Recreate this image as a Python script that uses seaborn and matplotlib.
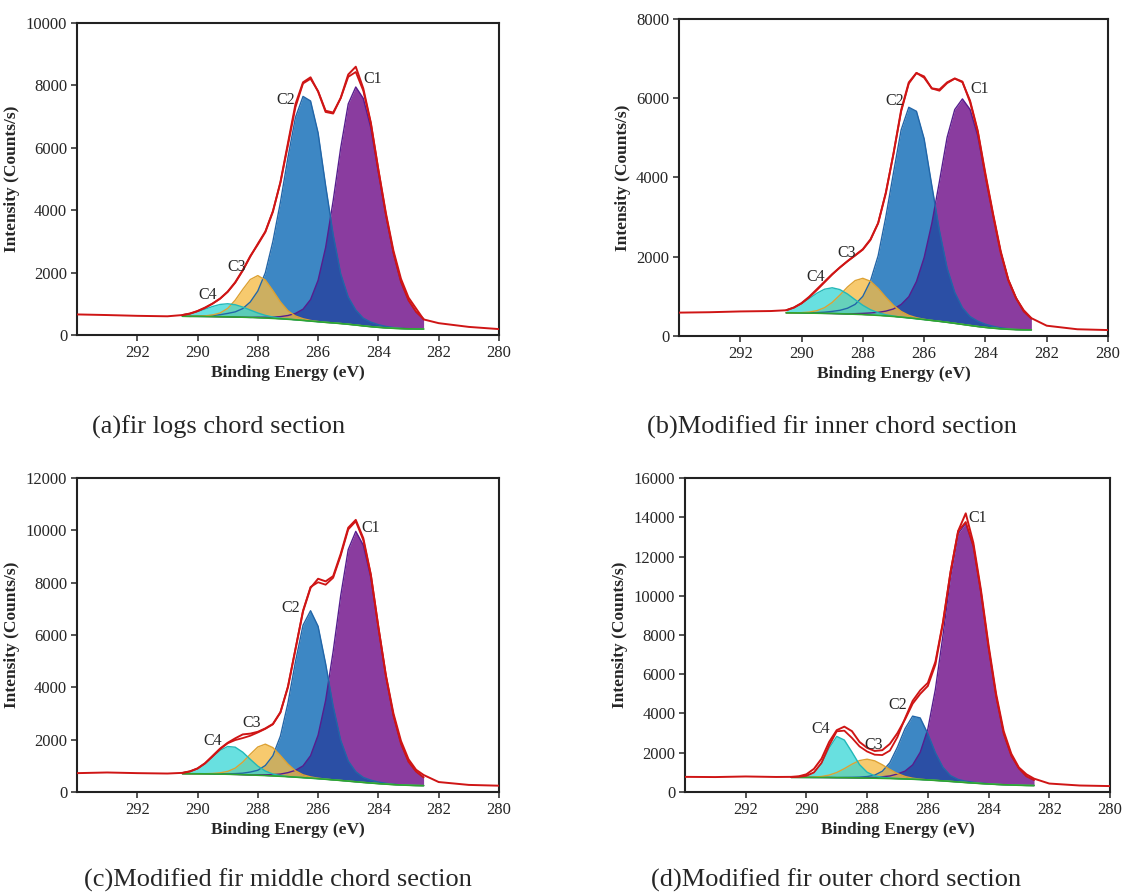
import numpy as np
import matplotlib
matplotlib.use("Agg")
import matplotlib.pyplot as plt
import seaborn as sns

# binding energy grid (eV) of the fitted region, and the outer points of the raw scan
core_ev = [290.5, 290.25, 290.0, 289.75, 289.5, 289.25, 289.0, 288.75, 288.5, 288.25, 288.0,
           287.75, 287.5, 287.25, 287.0, 286.75, 286.5, 286.25, 286.0, 285.75, 285.5, 285.25,
           285.0, 284.75, 284.5, 284.25, 284.0, 283.75, 283.5, 283.25, 283.0, 282.75, 282.5]
left_ev = [294.0, 293.0, 292.0, 291.0]
right_ev = [282.0, 281.0, 280.0]

# (a) fir logs chord section
a_bg = [600, 598, 596, 593, 590, 586, 582, 577, 571, 564, 555, 545, 533, 520, 505, 488, 468,
        447, 426, 406, 388, 368, 345, 320, 293, 268, 247, 229, 215, 205, 198, 194, 192]
a_c1 = [0, 0, 0, 0, 0, 0, 0, 0, 0, 0, 15, 25, 40, 70, 120, 205, 360, 690, 1330, 2400, 3915,
        5630, 7060, 7630, 7290, 6370, 4960, 3590, 2400, 1490, 915, 550, 320]
a_c2 = [0, 0, 10, 20, 36, 65, 110, 165, 275, 495, 855, 1450, 2465, 3735, 5185, 6490, 7180,
        7055, 6055, 4385, 2830, 1595, 870, 480, 245, 145, 85, 45, 25, 12, 0, 0, 0]
a_c3 = [0, 0, 7, 20, 54, 120, 270, 540, 890, 1215, 1350, 1215, 890, 540, 270, 120, 54, 20, 7,
        0, 0, 0, 0, 0, 0, 0, 0, 0, 0, 0, 0, 0, 0]
a_c4 = [42, 85, 151, 236, 325, 394, 420, 394, 325, 236, 151, 85, 42, 18, 7,
        0, 0, 0, 0, 0, 0, 0, 0, 0, 0, 0, 0, 0, 0, 0, 0, 0, 0]
a_raw = [660, 640, 615, 600,
         640, 690, 770, 880, 1010, 1170, 1390, 1690, 2080, 2530, 2900, 3300, 3950, 4900, 6150,
         7400, 8100, 8260, 7800, 7150, 7100, 7600, 8350, 8600, 7900, 6800, 5300, 3900, 2700,
         1800, 1200, 850, 500,
         380, 260, 190]

# (b) modified fir inner chord section
b_bg = [585, 583, 581, 578, 575, 571, 567, 562, 556, 549, 541, 532, 521, 508, 493, 476, 457,
        436, 414, 392, 370, 346, 320, 293, 266, 240, 217, 198, 182, 170, 162, 157, 155]
b_c1 = [0, 0, 0, 0, 0, 0, 0, 0, 0, 15, 30, 50, 75, 120, 190, 320, 535, 940, 1565, 2445, 3530,
        4665, 5395, 5690, 5450, 4810, 3810, 2845, 1935, 1240, 800, 465, 285]
b_c2 = [0, 0, 0, 8, 16, 30, 54, 86, 145, 250, 460, 860, 1505, 2495, 3625, 4725, 5315, 5235,
        4565, 3410, 2290, 1370, 780, 420, 225, 135, 80, 48, 25, 12, 0, 0, 0]
b_c3 = [0, 0, 8, 25, 64, 144, 280, 470, 681, 850, 915, 850, 681, 470, 280, 144, 64, 25, 8,
        0, 0, 0, 0, 0, 0, 0, 0, 0, 0, 0, 0, 0, 0]
b_c4 = [66, 132, 234, 366, 504, 610, 650, 610, 504, 366, 234, 132, 66, 29, 11,
        0, 0, 0, 0, 0, 0, 0, 0, 0, 0, 0, 0, 0, 0, 0, 0, 0, 0]
b_raw = [590, 600, 620, 630,
         650, 720, 830, 990, 1180, 1370, 1560, 1730, 1890, 2040, 2190, 2440, 2850, 3600, 4600,
         5700, 6400, 6640, 6520, 6250, 6220, 6400, 6500, 6420, 5900, 5150, 4050, 3050, 2100,
         1400, 950, 650, 450,
         260, 170, 150]

# (c) modified fir middle chord section
c_bg = [700, 698, 696, 693, 689, 684, 678, 670, 661, 651, 640, 628, 615, 600, 584, 567, 548,
        528, 508, 486, 463, 440, 415, 390, 365, 342, 320, 300, 282, 267, 256, 248, 243]
c_c1 = [0, 0, 0, 0, 0, 0, 0, 0, 0, 0, 15, 30, 50, 85, 155, 260, 450, 860, 1665, 3015, 4910,
        7060, 8850, 9570, 9070, 7850, 5935, 4115, 2630, 1580, 900, 535, 315]
c_c2 = [0, 0, 0, 0, 0, 0, 15, 32, 58, 110, 190, 385, 770, 1535, 2815, 4415, 5825, 6400, 5825,
        4415, 2815, 1535, 770, 385, 190, 110, 58, 32, 15, 0, 0, 0, 0]
c_c3 = [0, 0, 0, 6, 18, 48, 108, 240, 480, 790, 1080, 1200, 1080, 790, 480, 240, 108, 48, 18,
        6, 0, 0, 0, 0, 0, 0, 0, 0, 0, 0, 0, 0, 0]
c_c4 = [30, 86, 200, 394, 652, 906, 1060, 1042, 861, 598, 349, 171, 71, 25, 7,
        0, 0, 0, 0, 0, 0, 0, 0, 0, 0, 0, 0, 0, 0, 0, 0, 0, 0]
c_raw = [720, 745, 720, 705,
         730, 790, 900, 1100, 1380, 1660, 1880, 2050, 2200, 2230, 2300, 2430, 2600, 3050, 4000,
         5450, 6900, 7800, 8150, 8050, 8250, 9100, 10100, 10400, 9700, 8300, 6300, 4450, 3000,
         1950, 1250, 850, 650,
         380, 270, 240]

# (d) modified fir outer chord section
d_bg = [745, 744, 742, 740, 738, 735, 731, 727, 722, 716, 710, 703, 695, 686, 676, 664, 650,
        633, 613, 590, 565, 538, 510, 482, 455, 430, 408, 388, 370, 355, 343, 334, 328]
d_c1 = [0, 0, 0, 0, 0, 0, 0, 0, 0, 0, 20, 40, 80, 130, 240, 400, 730, 1390, 2585, 4640, 7420,
        10400, 12650, 13210, 12060, 9740, 6955, 4505, 2610, 1500, 860, 465, 280]
d_c2 = [0, 0, 0, 0, 0, 0, 0, 15, 26, 43, 75, 155, 360, 805, 1610, 2560, 3215, 3140, 2360,
        1410, 690, 295, 130, 66, 40, 24, 14, 0, 0, 0, 0, 0, 0]
d_c3 = [0, 0, 5, 18, 52, 126, 261, 462, 693, 885, 960, 885, 693, 462, 261, 126, 52, 18, 5,
        0, 0, 0, 0, 0, 0, 0, 0, 0, 0, 0, 0, 0, 0]
d_c4 = [10, 30, 76, 240, 700, 1505, 2100, 1920, 1315, 680, 297, 117, 53, 25, 12, 5,
        0, 0, 0, 0, 0, 0, 0, 0, 0, 0, 0, 0, 0, 0, 0, 0, 0]
d_raw = [770, 760, 790, 765,
         770, 800, 900, 1180, 1700, 2550, 3150, 3330, 3100, 2550, 2250, 2090, 2130, 2450, 3000,
         3700, 4500, 5000, 5400, 6500, 8600, 11200, 13300, 14200, 12700, 10300, 7500, 5000,
         3100, 1950, 1250, 900, 680,
         430, 330, 300]

y_max = [10000, 8000, 12000, 16000]
captions = ["(a)fir logs chord section", "(b)Modified fir inner chord section",
            "(c)Modified fir middle chord section", "(d)Modified fir outer chord section"]
peak_names = ["C1", "C2", "C3", "C4"]

sns.set_theme(style="ticks")
plt.rcParams["font.family"] = ["Liberation Serif", "DejaVu Serif"]

fig = plt.figure(figsize=(11.35, 8.96), dpi=100)

boxes = [[0.0678, 0.6261, 0.3718, 0.3482],
         [0.5982, 0.6250, 0.3780, 0.3538],
         [0.0678, 0.1161, 0.3718, 0.3504],
         [0.6035, 0.1161, 0.3744, 0.3504]]
label_pos = [[(284.2, 8200), (287.08, 7520), (288.69, 2190), (289.67, 1280)],
             [(284.18, 6230), (286.97, 5920), (288.52, 2105), (289.54, 1500)],
             [(284.25, 10090), (286.91, 7050), (288.2, 2620), (289.5, 1940)],
             [(284.34, 13960), (287.0, 4425), (287.78, 2380), (289.54, 3230)]]
caption_pos = [(0.081, 0.5234), (0.570, 0.5234), (0.074, 0.017), (0.574, 0.017)]

panels = [(a_bg, a_c1, a_c2, a_c3, a_c4, a_raw),
          (b_bg, b_c1, b_c2, b_c3, b_c4, b_raw),
          (c_bg, c_c1, c_c2, c_c3, c_c4, c_raw),
          (d_bg, d_c1, d_c2, d_c3, d_c4, d_raw)]

x = np.array(core_ev)
x_full = np.array(left_ev + core_ev + right_ev)

fill_c1, fill_c2, fill_both = "#8a3c9f", "#3d87c4", "#2b4fa5"
fill_c3, fill_c4 = "#f6bb45", "#36d6d6"
red = "#cf1515"

for k, (bg, c1, c2, c3, c4, raw) in enumerate(panels):
    ax = fig.add_axes(boxes[k])
    bg, c1, c2, c3, c4 = (np.array(v, dtype=float) for v in (bg, c1, c2, c3, c4))

    ax.fill_between(x, bg, bg + c2, color=fill_c2, lw=0, zorder=2)
    purple = ax.fill_between(x, bg, bg + c1, color=fill_c1, lw=0, zorder=2)
    # where C1 and C2 overlap the area turns dark blue
    both = ax.fill_between(x, bg, bg + c2, color=fill_both, lw=0, zorder=3)
    both.set_clip_path(purple.get_paths()[0], transform=ax.transData)
    ax.fill_between(x, bg, bg + c3, color=fill_c3, alpha=0.78, lw=0, zorder=4)
    ax.fill_between(x, bg, bg + c4, color=fill_c4, alpha=0.75, lw=0, zorder=5)

    edges = [(c1, "#571d8e"), (c2, "#2266a8"), (c3, "#dea232"), (c4, "#22b8b8")]
    for comp, col in edges:
        sns.lineplot(x=x, y=bg + comp, ax=ax, color=col, lw=1.0, estimator=None,
                     legend=False, zorder=6)
    sns.lineplot(x=x, y=bg, ax=ax, color="#2fa52f", lw=1.2, estimator=None,
                 legend=False, zorder=7)
    sns.lineplot(x=x_full, y=np.array(raw), ax=ax, color=red, lw=1.4, estimator=None,
                 legend=False, zorder=8)
    sns.lineplot(x=x, y=bg + c1 + c2 + c3 + c4, ax=ax, color=red, lw=1.3, estimator=None,
                 legend=False, zorder=8)

    for name, (px, py) in zip(peak_names, label_pos[k]):
        ax.text(px, py, name, fontsize=11.5, ha="center", va="center", zorder=9)

    ax.set_xlim(294, 280)
    ax.set_ylim(0, y_max[k])
    ax.set_xticks(list(range(292, 279, -2)))
    ax.set_yticks(list(range(0, y_max[k] + 1, 2000)))
    ax.tick_params(direction="out", length=4, width=1.1, labelsize=12, pad=3,
                   top=False, right=False)
    for sp in ax.spines.values():
        sp.set_linewidth(1.5)
        sp.set_color("#222222")
    ax.set_xlabel("Binding Energy (eV)", fontsize=12.5, fontweight="bold", labelpad=3)
    ax.set_ylabel("Intensity (Counts/s)", fontsize=12.5, fontweight="bold", labelpad=4)

    cx, cy = caption_pos[k]
    fig.text(cx, cy, captions[k], fontsize=19, ha="left", va="center")

fig.savefig("out.png", dpi=100)
